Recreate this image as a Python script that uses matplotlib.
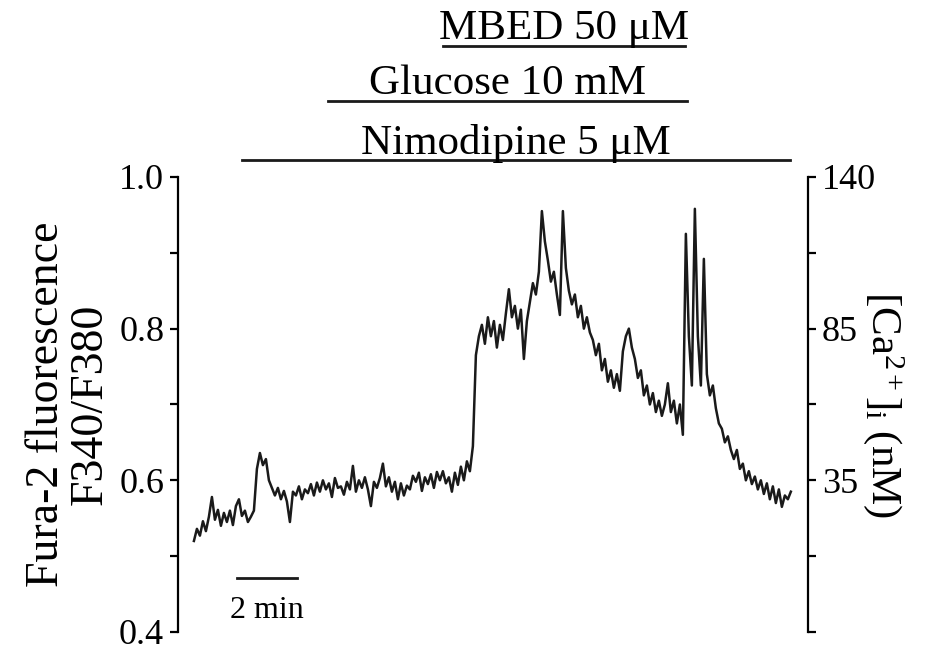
import matplotlib
matplotlib.use("Agg")
import matplotlib.pyplot as plt
import numpy as np

plt.rcParams['font.family'] = ['Liberation Serif', 'DejaVu Serif']
plt.rcParams['mathtext.fontset'] = 'custom'
plt.rcParams['mathtext.rm'] = 'Liberation Serif'
plt.rcParams['mathtext.it'] = 'Liberation Serif:italic'

t_start = 0.53
t_step = 0.1
ratio = [
    0.520, 0.536, 0.527, 0.546, 0.533, 0.552, 0.578, 0.548, 0.561, 0.540, 0.557, 0.545,
    0.560, 0.541, 0.566, 0.575, 0.553, 0.560, 0.545, 0.552, 0.560,
    0.615, 0.636, 0.620, 0.628, 0.600, 0.590, 0.580, 0.590, 0.575, 0.586, 0.572, 0.545,
    0.585, 0.580, 0.592, 0.575, 0.588, 0.583, 0.595, 0.580, 0.597, 0.585, 0.600, 0.588,
    0.596, 0.578, 0.603, 0.590,
    0.592, 0.581, 0.598, 0.588, 0.619, 0.585, 0.600, 0.590, 0.604, 0.588, 0.566, 0.598,
    0.590, 0.603, 0.622, 0.592, 0.604, 0.585, 0.598, 0.575, 0.596, 0.580, 0.593, 0.588,
    0.606, 0.598, 0.610, 0.586, 0.604, 0.595, 0.608, 0.590, 0.611, 0.600, 0.612, 0.596,
    0.604, 0.585, 0.610, 0.594, 0.618, 0.600, 0.625, 0.612,
    0.645, 0.765, 0.790, 0.805, 0.780, 0.815, 0.790, 0.810, 0.775, 0.805, 0.785, 0.820,
    0.852, 0.815, 0.830, 0.800, 0.825, 0.760, 0.810, 0.835, 0.860, 0.845, 0.875, 0.955,
    0.915, 0.890, 0.862, 0.875, 0.845, 0.818, 0.955, 0.880, 0.850, 0.832, 0.845, 0.815,
    0.830, 0.800, 0.815, 0.795, 0.785, 0.765, 0.780, 0.745, 0.760, 0.730, 0.745, 0.722,
    0.740, 0.718, 0.770, 0.790, 0.800, 0.775, 0.760, 0.735, 0.745, 0.712, 0.725, 0.700,
    0.715, 0.690, 0.705, 0.685, 0.700, 0.728, 0.690, 0.705, 0.675, 0.700, 0.660,
    0.925, 0.790, 0.725, 0.958, 0.790, 0.725, 0.892, 0.740, 0.712, 0.725, 0.695, 0.675,
    0.668, 0.650, 0.658, 0.640, 0.628, 0.640, 0.615, 0.622, 0.600, 0.612, 0.595, 0.605,
    0.588, 0.600, 0.582, 0.596, 0.575, 0.592, 0.570, 0.588, 0.565, 0.580, 0.575, 0.585,
]
time_min = t_start + t_step * np.arange(len(ratio))

# drug applications: label, start (min), end (min)
drug_labels = ['Nimodipine 5 \u03bcM', 'Glucose 10 mM', 'MBED 50 \u03bcM']
drug_start = [2.13, 5.0, 8.83]
drug_end = [20.4, 16.97, 16.9]
drug_level = [1.022, 1.100, 1.173]

left_ticks = [0.4, 0.5, 0.6, 0.7, 0.8, 0.9, 1.0]
left_labels = ['0.4', '', '0.6', '', '0.8', '', '1.0']
right_labels = ['', '', '35', '', '85', '', '140']

bar_start = 1.95
bar_len = 2.0

fig = plt.figure(figsize=(9.53, 6.53), dpi=100)
ax = fig.add_axes([0.1868, 0.0322, 0.661, 0.6968])
ax.plot(time_min, ratio, color='#1a1a1a', lw=1.8)
ax.set_xlim(0, 21)
ax.set_ylim(0.4, 1.0)

for s in ['top', 'bottom']:
    ax.spines[s].set_visible(False)
ax.spines['left'].set_linewidth(1.6)
ax.spines['right'].set_visible(False)
ax.set_xticks([])
ax.set_yticks(left_ticks)
ax.set_yticklabels(left_labels)
ax.tick_params(axis='y', length=6, width=1.6, labelsize=26, pad=4)
ax.set_ylabel('Fura-2 fluorescence\nF340/F380', fontsize=33, labelpad=5,
              linespacing=1.05)

ax2 = ax.twinx()
ax2.set_ylim(0.4, 1.0)
for s in ['top', 'bottom', 'left']:
    ax2.spines[s].set_visible(False)
ax2.spines['right'].set_linewidth(1.6)
ax2.set_yticks(left_ticks)
ax2.set_yticklabels(right_labels)
ax2.tick_params(axis='y', length=6, width=1.6, labelsize=26, pad=4)
ax2.set_ylabel(r'[Ca$^{2+}$]$_{\mathrm{i}}$ (nM)', fontsize=31, rotation=270,
               va='bottom')
ax2.yaxis.set_label_coords(1.085, 0.5)

# treatment bars above the trace
for lab, a, b, lev in zip(drug_labels, drug_start, drug_end, drug_level):
    ax.plot([a, b], [lev, lev], color='#1a1a1a', lw=2, clip_on=False)
    ax.text((a + b) / 2, lev - 0.003, lab, ha='center', va='bottom',
            fontsize=31, clip_on=False)

# time scale bar
ax.plot([bar_start, bar_start + bar_len], [0.471, 0.471], color='#1a1a1a', lw=2)
ax.text(bar_start + bar_len / 2, 0.448, '2 min', ha='center', va='top', fontsize=23)

fig.savefig('out.png', dpi=100)
